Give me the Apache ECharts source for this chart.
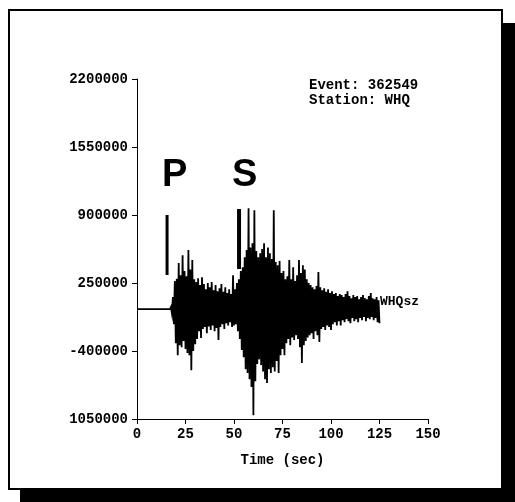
<!DOCTYPE html>
<html><head><meta charset="utf-8">
<script src="https://cdn.jsdelivr.net/npm/echarts@6/dist/echarts.min.js"></script>
<style>html,body{margin:0;padding:0;background:#fff}#c{width:515px;height:502px}</style>
</head><body><div id="c"></div>
<script>
// ---- data ----
const xTickLabels = ['0','25','50','75','100','125','150'];
const yTickLabels = ['1050000','-400000','250000','900000','1550000','2200000'];
const yMin = -1050000, yMax = 2200000, yStep = 650000;
const xMin = 0, xMax = 150, xStep = 25;

// quiet pre-event segment
const quietTimes = [0, 17];
const quietAmps = [0, 0];
const sampleStart = 17.5, sampleStep = 0.5;
const traceAmps = [
 20000,
 -40000,115000, -145000,270000, -325000,290000, -440000,440000, -345000,325000,
 -365000,515000, -305000,365000, -380000,315000, -420000,565000, -440000,380000,
 -585000,470000, -400000,285000, -335000,260000, -285000,295000, -210000,230000,
 -275000,305000, -190000,240000, -170000,190000, -230000,250000, -165000,210000,
 -200000,260000, -155000,180000, -210000,230000, -180000,170000, -295000,200000,
 -170000,240000, -145000,165000, -190000,210000, -135000,155000, -155000,190000,
 -125000,145000, -170000,325000, -155000,190000, -145000,250000, -210000,285000,
 -285000,365000, -390000,400000, -460000,495000, -575000,565000, -610000,965000,
 -670000,590000, -745000,630000, -1015000,945000, -690000,555000, -525000,495000,
 -480000,535000, -535000,575000, -595000,630000, -670000,495000, -705000,590000,
 -575000,535000, -610000,480000, -555000,945000, -595000,450000, -495000,420000,
 -610000,460000, -440000,345000, -380000,365000, -440000,285000, -325000,315000,
 -285000,470000, -345000,285000, -270000,400000, -295000,270000, -250000,325000,
 -285000,470000, -365000,345000, -515000,420000, -345000,380000, -305000,285000,
 -270000,250000, -250000,230000, -230000,210000, -285000,190000, -210000,220000,
 -250000,355000, -315000,210000, -190000,180000, -170000,200000, -200000,165000,
 -155000,190000, -170000,155000, -200000,170000, -145000,145000, -125000,155000,
 -155000,125000, -115000,145000, -155000,135000, -105000,115000, -125000,145000,
 -95000,170000, -115000,125000, -135000,105000, -85000,135000, -115000,115000,
 -95000,125000, -125000,95000, -85000,115000, -105000,135000, -75000,105000,
 -115000,95000, -85000,125000, -95000,155000, -75000,105000, -105000,95000,
 -85000,115000, -125000,85000, -135000
];
// phase picks
const phaseNames = ['P', 'S'];
const phaseTimes = [15.5, 52.6];
const phaseBarLow = [326000, 384000];
const phaseBarHigh = [900000, 957000];
const eventId = '362549';
const stationName = 'WHQ';
const channelName = 'WHQsz';

// ---- chart ----
const traceData = quietTimes.map((t, i) => [t, quietAmps[i]])
  .concat(traceAmps.map((a, i) => [sampleStart + i * sampleStep, a]));

const mono = '"Liberation Mono", "DejaVu Sans Mono", monospace';
const chart = echarts.init(document.getElementById('c'), null, {renderer: 'canvas'});

const phaseWidths = [3, 4];
const phaseSeries = phaseNames.map((n, i) => ({
  type: 'line', name: n, silent: true, symbol: 'none', animation: false,
  data: [[phaseTimes[i], phaseBarLow[i]], [phaseTimes[i], phaseBarHigh[i]]],
  lineStyle: {color: '#000', width: phaseWidths[i], cap: 'butt'}, z: 3
}));

chart.setOption({
  backgroundColor: '#fff',
  animation: false,
  grid: {left: 137, top: 79, width: 291, height: 340, containLabel: false},
  xAxis: {
    type: 'value', min: xMin, max: xMax, interval: xStep,
    name: 'Time (sec)', nameLocation: 'middle', nameGap: 34,
    nameTextStyle: {fontFamily: mono, fontWeight: 'bold', fontSize: 14, color: '#000'},
    axisLine: {onZero: false, lineStyle: {color: '#000', width: 1}},
    axisTick: {show: true, length: 5, lineStyle: {color: '#000'}},
    axisLabel: {fontFamily: mono, fontWeight: 'bold', fontSize: 14, color: '#000', margin: 8,
      formatter: v => xTickLabels[Math.round((v - xMin) / xStep)]},
    splitLine: {show: false}
  },
  yAxis: {
    type: 'value', min: yMin, max: yMax, interval: yStep,
    axisLine: {show: true, onZero: false, lineStyle: {color: '#000', width: 1}},
    axisTick: {show: true, length: 5, lineStyle: {color: '#000'}},
    axisLabel: {fontFamily: mono, fontWeight: 'bold', fontSize: 14, color: '#000', margin: 9,
      formatter: v => { const k = Math.round((v - yMin) / yStep); return yTickLabels[k] !== undefined ? yTickLabels[k] : ''; }},
    splitLine: {show: false}
  },
  series: [{
    type: 'line', name: channelName, data: traceData, symbol: 'none', silent: true,
    lineStyle: {color: '#000', width: 1.8, join: 'miter'}, z: 2
  }].concat(phaseSeries),
  graphic: [
    {type: 'rect', shape: {x: 503, y: 23, width: 12, height: 479}, style: {fill: '#000'}, silent: true},
    {type: 'rect', shape: {x: 20, y: 490, width: 495, height: 12}, style: {fill: '#000'}, silent: true},
    {type: 'rect', shape: {x: 9, y: 10, width: 493, height: 479}, style: {fill: 'none', stroke: '#000', lineWidth: 2}, silent: true},
    {type: 'text', left: 309, top: 78, style: {text: 'Event: ' + eventId + '\nStation: ' + stationName, font: 'bold 14px ' + mono, fill: '#000', lineHeight: 15}},
    {type: 'text', left: 380, top: 295, style: {text: channelName, font: 'bold 13px ' + mono, fill: '#000'}},
    {type: 'text', left: 162, top: 157, style: {text: phaseNames[0], font: 'bold 38px "Liberation Sans", Arial, sans-serif', fill: '#000'}},
    {type: 'text', left: 232, top: 157, style: {text: phaseNames[1], font: 'bold 38px "Liberation Sans", Arial, sans-serif', fill: '#000'}}
  ]
});
</script></body></html>
